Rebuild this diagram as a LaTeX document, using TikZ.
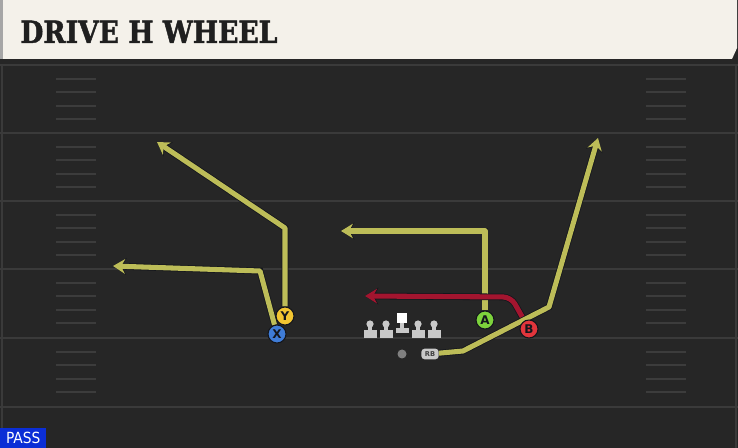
\documentclass[tikz,border=0pt]{standalone}
\usepackage{fontspec}
\newfontfamily\titlefont{DejaVu Serif}[FakeStretch=0.87,FakeBold=1.5]
\newfontfamily\playfont{DejaVu Sans}
\newfontfamily\passfont{DejaVu Sans Condensed}
\usepackage{tikz}
\usetikzlibrary{arrows.meta}

\definecolor{fieldbg}{HTML}{262626}
\definecolor{yardline}{HTML}{3A3A3A}
\definecolor{hashline}{HTML}{3C3C3C}
\definecolor{titlecream}{HTML}{F4F1EA}
\definecolor{routeyellow}{HTML}{BDBD58}
\definecolor{routered}{HTML}{A3152F}
\definecolor{outline}{HTML}{14161C}
\definecolor{ycol}{HTML}{F2C531}
\definecolor{xcol}{HTML}{3F7CD6}
\definecolor{acol}{HTML}{7DD23C}
\definecolor{bcol}{HTML}{E2353C}
\definecolor{linecol}{HTML}{C9C9C9}
\definecolor{passblue}{HTML}{0B2ED6}

\pgfdeclarelayer{field}
\pgfdeclarelayer{routes}
\pgfsetlayers{field,routes,main}

\begin{document}
\begin{tikzpicture}[x=0.75pt,y=-0.75pt,
    player/.style={circle,draw=outline,line width=0.8pt,minimum size=13.5pt,inner sep=0pt,
        font=\playfont\bfseries\fontsize{9}{9}\selectfont,text=outline},
    route/.style={draw=routeyellow,line width=3.8pt,line join=round,
        -{Stealth[length=9pt,width=11pt,inset=3pt]},
        preaction={draw=outline,line width=5pt,-{Stealth[length=10pt,width=12.5pt,inset=3.3pt]}}},
    redroute/.style={route,draw=routered},
    lineman/.style={fill=linecol}]

\useasboundingbox (0,0) rectangle (738,448);

\begin{pgfonlayer}{field}
\fill[fieldbg] (0,0) rectangle (738,448);
\fill[black!85] (0,58) rectangle (738,65);
\draw[yardline,line width=0.8pt] (2,65) -- (2,448);
\draw[yardline,line width=0.8pt] (736,65) -- (736,448);
\foreach \y in {65,133,201,269,338,407}
    \draw[yardline,line width=1.5pt] (0,\y) -- (738,\y);
\foreach \y in {65,133,201,269,338}
    \foreach \k in {1,2,3,4} {
        \draw[hashline,line width=1.5pt] (56,\y+13.6*\k) -- (96,\y+13.6*\k);
        \draw[hashline,line width=1.5pt] (646,\y+13.6*\k) -- (686,\y+13.6*\k);
    }
\fill[titlecream] (0,0) -- (737,0) -- (737,48) -- (732,59) -- (0,59) -- cycle;
\fill[black!35] (0,0) rectangle (3,59);
\end{pgfonlayer}

\node[anchor=base west,inner sep=0pt,text=black!88,
    font=\titlefont\bfseries\fontsize{23}{23}\selectfont] (title) at (20,43) {DRIVE H WHEEL};

\node[player,fill=ycol] (Y) at (285,316) {Y};
\node[player,fill=xcol] (X) at (277,334) {X};
\node[player,fill=acol] (A) at (485,320) {A};
\node[player,fill=bcol] (B) at (529,329) {B};

\foreach \x in {370,386,418,434} {
    \fill[lineman] (\x-6.5,330) rectangle (\x+6.5,338);
    \fill[lineman] (\x-2,324) rectangle (\x+2,331);
    \fill[lineman] (\x,324) circle (3.6);
}
\fill[lineman] (395.5,328) rectangle (408.5,333);
\fill[lineman] (400,322) rectangle (404,329);
\fill[white] (397,313) rectangle (407,323);

\fill[black!50] (402,354) circle (4.5);
\node[fill=linecol,rounded corners=2.5pt,minimum width=13pt,minimum height=8pt,inner sep=0pt,
    font=\playfont\bfseries\fontsize{5}{5}\selectfont,text=black!75] (RB) at (430,354) {RB};

\coordinate (y1) at (285,228);
\coordinate (y2) at (157,142);
\coordinate (x1) at (260,271);
\coordinate (x2) at (113,266);
\coordinate (a1) at (485,231);
\coordinate (a2) at (341,231);
\coordinate (b1) at (511,297);
\coordinate (b2) at (365,296);
\coordinate (r1) at (463,351);
\coordinate (r2) at (549,307);
\coordinate (r3) at (598,138);

\begin{pgfonlayer}{routes}
\draw[route] (Y) -- (y1) -- (y2);
\draw[route] (X) -- (x1) -- (x2);
\draw[route] (A) -- (a1) -- (a2);
\draw[redroute,rounded corners=6pt] (B.center) -- (b1) -- (b2);
\draw[route] (RB) -- (r1) -- (r2) -- (r3);
\end{pgfonlayer}

\node[fill=passblue,text=white,anchor=south west,inner sep=0pt,minimum width=34.5pt,minimum height=15pt,
    font=\passfont\fontsize{11.5}{11.5}\selectfont] (pass) at (0,448) {PASS};

\end{tikzpicture}
\end{document}
